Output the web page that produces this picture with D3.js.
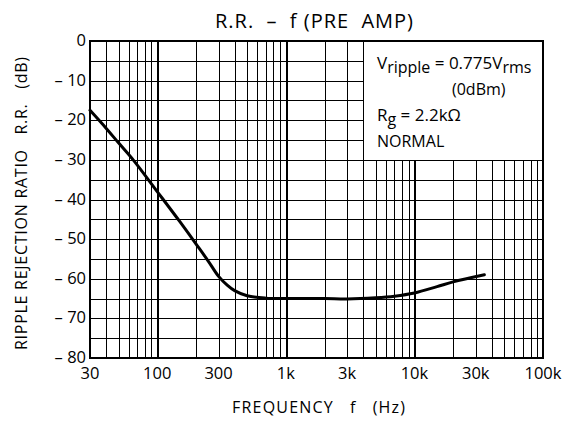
<!DOCTYPE html>
<html><head><meta charset="utf-8">
<script src="https://cdn.jsdelivr.net/npm/d3@7"></script>
<style>
body{margin:0;background:#fff;}
text{font-family:"Open Sans","Noto Sans",sans-serif;fill:#000;}
</style></head>
<body>
<svg id="c" width="571" height="421"></svg>
<script>
const freq = [30,40,50,65,100,150,200,250,300,350,400,500,700,1000,2000,3000,5000,7000,10000,15000,20000,35000];
const rr   = [-17.5,-22,-25.7,-30,-38,-45.6,-51.2,-55.6,-59.4,-61.6,-63.0,-64.3,-64.9,-65,-65,-65.1,-64.8,-64.4,-63.6,-62,-60.8,-59];
const xTickValues = [30,100,300,1000,3000,10000,30000,100000];
const xTickLabels = ["30","100","300","1k","3k","10k","30k","100k"];
const yTickValues = [0,-10,-20,-30,-40,-50,-60,-70,-80];
const yTickLabels = ["0","– 10","– 20","– 30","– 40","– 50","– 60","– 70","– 80"];
const noteLines = ["NORMAL"];

const L=90,R=543,T=41,B=358;
const svg=d3.select("#c");
const x=d3.scaleLog().domain([30,100000]).range([L,R]);
const y=d3.scaleLinear().domain([-80,0]).range([B,T]);

// grid
const vgrid=[];
for(let dec=10;dec<=100000;dec*=10){for(let m=1;m<10;m++){const v=dec*m; if(v>30&&v<100000) vgrid.push(v);}}
const g=svg.append("g").attr("shape-rendering","crispEdges");
g.selectAll("line.v").data(vgrid).join("line")
 .attr("x1",d=>Math.round(x(d))+0.5).attr("x2",d=>Math.round(x(d))+0.5)
 .attr("y1",T).attr("y2",B)
 .attr("stroke","#000")
 .attr("stroke-width",d=>[100,1000,10000].includes(d)?2:1);
const hgrid=d3.range(-75,0,5);
g.selectAll("line.h").data(hgrid).join("line")
 .attr("x1",L).attr("x2",R)
 .attr("y1",d=>Math.round(y(d))+0.5).attr("y2",d=>Math.round(y(d))+0.5)
 .attr("stroke","#000").attr("stroke-width",1);

// annotation box (white area)
const bx=Math.round(x(4000))+0.5, by=Math.round(y(-30))+0.5;
svg.append("rect").attr("x",bx+0.5).attr("y",T).attr("width",R-bx-0.5).attr("height",by-T-0.5).attr("fill","#fff");

// frame
svg.append("rect").attr("x",L).attr("y",T).attr("width",R-L).attr("height",B-T)
 .attr("fill","none").attr("stroke","#000").attr("stroke-width",2).attr("shape-rendering","crispEdges");

// curve
const line=d3.line().x(d=>x(d[0])).y(d=>y(d[1])).curve(d3.curveCatmullRom.alpha(0.5));
svg.append("path").datum(freq.map((f,i)=>[f,rr[i]])).attr("d",line)
 .attr("fill","none").attr("stroke","#000").attr("stroke-width",3).attr("stroke-linecap","round");

// axes labels
const xa=svg.append("g");
xa.selectAll("text").data(xTickValues).join("text")
 .attr("x",d=>x(d)).attr("y",379).attr("text-anchor","middle").attr("font-size",16.5)
 .text((d,i)=>xTickLabels[i]);
const ya=svg.append("g");
ya.selectAll("text").data(yTickValues).join("text")
 .attr("x",86).attr("y",d=>y(d)+5).attr("text-anchor","end").attr("font-size",16.5)
 .text((d,i)=>yTickLabels[i]);

svg.append("text").attr("x",215).attr("y",28).attr("font-size",20)
 .attr("textLength",198).attr("lengthAdjust","spacing")
 .attr("xml:space","preserve").text("R.R.  –  f (PRE  AMP)");
svg.append("text").attr("x",232).attr("y",413).attr("font-size",16)
 .attr("textLength",173).attr("lengthAdjust","spacing")
 .attr("xml:space","preserve").text("FREQUENCY   f   (Hz)");
svg.append("text").attr("transform","translate(27,350) rotate(-90)").attr("font-size",16)
 .attr("textLength",293).attr("lengthAdjust","spacing")
 .attr("xml:space","preserve").text("RIPPLE REJECTION RATIO   R.R.   (dB)");

// notes
const t1=svg.append("text").attr("x",377).attr("y",69).attr("font-size",17);
t1.append("tspan").text("V");
t1.append("tspan").attr("dy",4).attr("font-size",16).text("ripple");
t1.append("tspan").attr("dy",-4).text(" = 0.775V");
t1.append("tspan").attr("dy",4).attr("font-size",16).text("rms");
svg.append("text").attr("x",452).attr("y",95).attr("font-size",16).text("(0dBm)");
const t2=svg.append("text").attr("x",377).attr("y",121).attr("font-size",17);
t2.append("tspan").text("R");
t2.append("tspan").attr("dy",4).attr("font-size",16).text("g");
t2.append("tspan").attr("dy",-4).text(" = 2.2kΩ");
svg.append("text").attr("x",377).attr("y",147).attr("font-size",16).text(noteLines[0]);
</script>
</body></html>
